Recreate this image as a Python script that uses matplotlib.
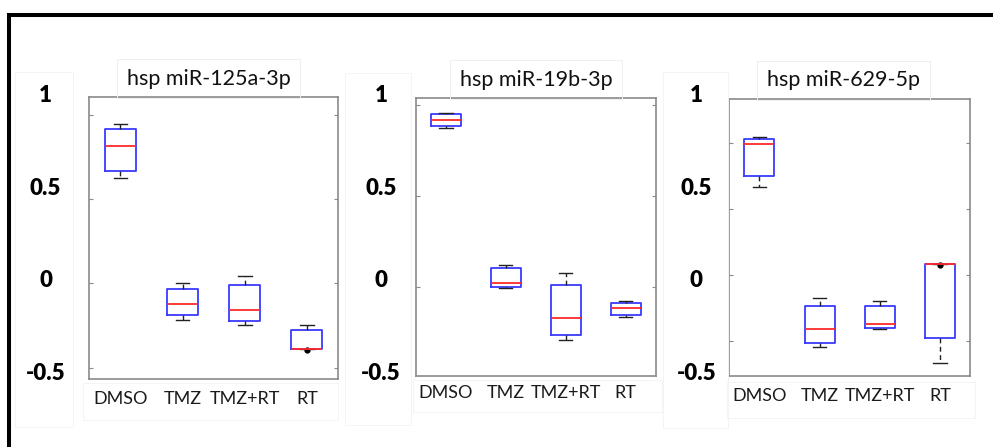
import matplotlib
matplotlib.use("Agg")
import matplotlib.pyplot as plt
from matplotlib.patches import Rectangle
import numpy as np

plt.rcParams["font.family"] = ["Lato", "DejaVu Sans"]
plt.rcParams["axes.unicode_minus"] = False

# Treatment groups and panel titles
groups = ["DMSO", "TMZ", "TMZ+RT", "RT"]
titles = ["hsp miR-125a-3p", "hsp miR-19b-3p", "hsp miR-629-5p"]

# Box-plot summaries, one row per miRNA, one column per group
whisker_low = [[0.545, -0.224, -0.250, -0.378],
               [0.817, -0.051, -0.331, -0.205],
               [0.498, -0.367, -0.273, -0.455]]
quart_low = [[0.583, -0.197, -0.226, -0.378],
             [0.826, -0.043, -0.304, -0.196],
             [0.556, -0.345, -0.268, -0.318]]
medians = [[0.719, -0.138, -0.169, -0.378],
           [0.860, -0.024, -0.214, -0.158],
           [0.727, -0.273, -0.246, 0.082]]
quart_high = [[0.810, -0.054, -0.032, -0.277],
              [0.891, 0.057, -0.034, -0.131],
              [0.757, -0.149, -0.149, 0.082]]
whisker_high = [[0.837, -0.023, 0.014, -0.250],
                [0.896, 0.075, 0.030, -0.120],
                [0.766, -0.105, -0.122, 0.082]]
marked_points = [[[], [], [], [-0.383]],
                 [[], [], [], []],
                 [[], [], [], [0.076]]]

# Value axis labels
ytick_values = [1, 0.5, 0, -0.5]
ytick_labels = ["1", "0.5", "0", "-0.5"]

W, H = 993, 447
fig = plt.figure(figsize=(W / 100, H / 100), dpi=100)


def px_axes(left, top, right, bottom):
    return fig.add_axes([left / W, 1 - bottom / H, (right - left) / W, (bottom - top) / H])


def px_box(left, top, right, bottom, color="#f4f4f4"):
    fig.add_artist(Rectangle((left / W, 1 - bottom / H), (right - left) / W,
                             (bottom - top) / H, transform=fig.transFigure,
                             fill=False, ec=color, lw=0.7))


# panel frames in pixels (left, top, right, bottom)
frames = [(89.3, 97.3, 338.0, 378.7),
          (416.0, 98.3, 655.7, 376.0),
          (729.3, 99.0, 970.0, 376.0)]
# vertical mapping shared by all panels: pixel row = Y0 - SCALE * value
Y0, SCALE = 278.9, 185.0
# the plotting axes carry their own small inner tick marks (slope, offset)
inner_scale = [(0.9107, -0.0247), (0.982, -0.042), (0.7127, 0.0203)]
label_x = [45.5, 381.0, 696.3]
title_x = [0.481, 0.50, 0.474]
xlabel_pad = [9.0, 6.5, 8.5]
# faint text-box outlines around the value labels and group labels
label_boxes = [(15, 72, 73, 427), (345, 73, 411, 425), (663, 72, 728, 428)]
group_boxes = [(83, 383, 338, 420), (413, 380, 662, 412), (727, 382, 975, 418)]

spine_col = "#8a8a8a"

for i, (l, t, r, b) in enumerate(frames):
    px_box(*label_boxes[i])
    px_box(*group_boxes[i])

    ax = px_axes(l, t, r, b)
    stats = []
    for j, g in enumerate(groups):
        stats.append(dict(label=g, whislo=whisker_low[i][j], q1=quart_low[i][j],
                          med=medians[i][j], q3=quart_high[i][j],
                          whishi=whisker_high[i][j], fliers=marked_points[i][j]))
    ax.bxp(stats, positions=[1, 2, 3, 4], widths=0.5, capwidths=0.22,
           boxprops=dict(color="#3a3aff", lw=1.3),
           medianprops=dict(color="#ff2a2a", lw=1.3),
           whiskerprops=dict(color="#222222", lw=1.0, ls=(0, (3.5, 2.5))),
           capprops=dict(color="#222222", lw=1.0),
           flierprops=dict(marker="o", mfc="black", mec="black", ms=3.5))
    ax.set_xlim(0.5, 4.5)
    ax.set_ylim((Y0 - b) / SCALE, (Y0 - t) / SCALE)

    a, c = inner_scale[i]
    lo, hi = ax.get_ylim()
    inner = [a * v + c for v in (-0.5, 0, 0.5, 1)]
    inner = [v for v in inner if lo < v < hi]
    ax.set_yticks(inner)
    ax.set_yticklabels([])
    ax.tick_params(axis="y", direction="in", left=True, right=True,
                   length=3, width=0.8, color=spine_col)
    ax.set_xticks([1, 2, 3, 4])
    ax.set_xticklabels(groups, fontsize=13, color="#1a1a1a")
    ax.tick_params(axis="x", length=0, pad=xlabel_pad[i])
    for s in ax.spines.values():
        s.set_color(spine_col)
        s.set_linewidth(1.2)

    ax.set_title(titles[i], x=title_x[i], pad=9, fontsize=15.5, color="#111111",
                 bbox=dict(boxstyle="square,pad=0.45", fc="none", ec="#efefef", lw=0.7))

    # bold value labels beside each panel
    lab_top, lab_bot = 50.0, 410.0
    lax = px_axes(label_x[i], lab_top, label_x[i] + 1, lab_bot)
    lax.set_ylim((Y0 - lab_bot) / SCALE, (Y0 - lab_top) / SCALE)
    lax.set_yticks(ytick_values)
    lax.set_yticklabels(ytick_labels, fontsize=16, fontweight="heavy",
                        ha="center", color="black")
    lax.tick_params(axis="y", length=0, pad=0)
    lax.set_xticks([])
    for s in lax.spines.values():
        s.set_visible(False)
    lax.patch.set_alpha(0)

# outer frame around the figure
fig.add_artist(Rectangle((8.7 / W, -0.1), 1.2, 1 - 15.0 / H + 0.1,
                         transform=fig.transFigure, fill=False,
                         ec="black", lw=2.9))

fig.savefig("out.png", dpi=100)
